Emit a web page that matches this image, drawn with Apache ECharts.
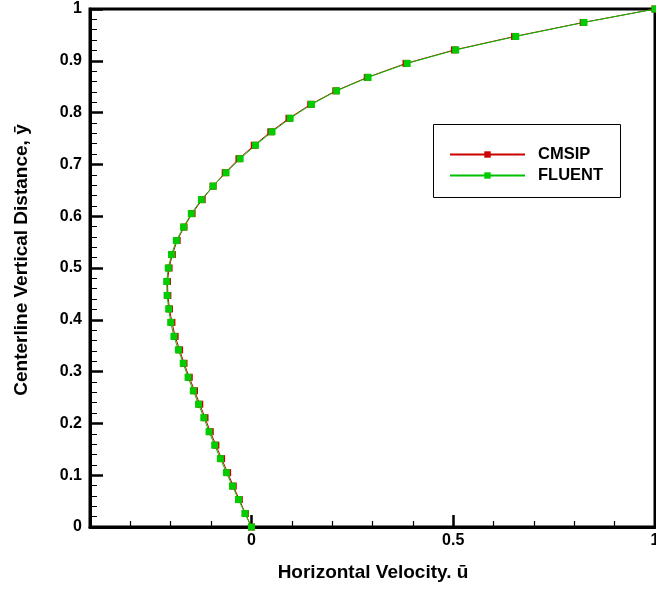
<!DOCTYPE html>
<html><head><meta charset="utf-8">
<script src="https://cdn.jsdelivr.net/npm/echarts@6/dist/echarts.min.js"></script>
<style>html,body{margin:0;padding:0;background:#fff}#c{width:656px;height:592px}</style>
</head><body><div id="c"></div>
<script>
// Centerline vertical distance (y-bar)
const yValues = [0, 0.026, 0.053, 0.079, 0.105, 0.132, 0.158, 0.184, 0.211, 0.237,
  0.263, 0.289, 0.316, 0.342, 0.368, 0.395, 0.421, 0.447, 0.474, 0.5,
  0.526, 0.553, 0.579, 0.605, 0.632, 0.658, 0.684, 0.711, 0.737, 0.763,
  0.789, 0.816, 0.842, 0.868, 0.895, 0.921, 0.947, 0.974, 1];
// Horizontal velocity (u-bar), FLUENT
const fluentU = [0, -0.016, -0.032, -0.047, -0.062, -0.077, -0.091, -0.105, -0.118, -0.131,
  -0.144, -0.157, -0.169, -0.181, -0.192, -0.200, -0.205, -0.209, -0.210, -0.206,
  -0.198, -0.186, -0.168, -0.149, -0.124, -0.095, -0.063, -0.028, 0.010, 0.051,
  0.096, 0.149, 0.211, 0.289, 0.386, 0.506, 0.655, 0.824, 1];
// Horizontal velocity (u-bar), CMSIP
const cmsipU = [0, -0.015, -0.030, -0.045, -0.059, -0.074, -0.088, -0.102, -0.115, -0.128,
  -0.141, -0.154, -0.167, -0.178, -0.189, -0.197, -0.203, -0.207, -0.208, -0.204,
  -0.196, -0.184, -0.167, -0.147, -0.122, -0.095, -0.065, -0.031, 0.007, 0.048,
  0.093, 0.147, 0.209, 0.287, 0.383, 0.503, 0.652, 0.822, 1];
const xMajorTicks = [0, 0.5, 1];
const seriesNames = ['CMSIP', 'FLUENT'];

const FONT = '"Liberation Sans", Arial, Helvetica, sans-serif';
const chart = echarts.init(document.getElementById('c'));
const pairs = (us) => us.map((u, i) => [u, yValues[i]]);

chart.setOption({
  animation: false,
  grid: { left: 90, right: 1, top: 9, bottom: 65, containLabel: false, outerBoundsMode: 'none',
    show: true, borderColor: '#000', borderWidth: 3, backgroundColor: 'transparent' },
  xAxis: [
    {
      type: 'value', min: -0.4, max: 1, interval: 0.1, position: 'bottom',
      axisLine: { show: true, onZero: false, lineStyle: { color: '#000', width: 3 } },
      axisTick: { show: true, inside: true, length: 6, lineStyle: { color: '#000', width: 1.2 } },
      axisLabel: { show: false },
      splitLine: { show: false }
    },
    {
      type: 'value', min: -0.4, max: 1, position: 'bottom',
      axisLine: { show: false, onZero: false },
      axisTick: { show: true, inside: true, length: 12, customValues: xMajorTicks, lineStyle: { color: '#000', width: 2.5 } },
      axisLabel: { show: true, customValues: xMajorTicks, margin: 6, color: '#000', fontSize: 16, fontWeight: 'bold', fontFamily: FONT, hideOverlap: false },
      splitLine: { show: false }
    }
  ],
  yAxis: {
    type: 'value', min: 0, max: 1, interval: 0.1,
    axisLine: { show: true, onZero: false, lineStyle: { color: '#000', width: 3 } },
    axisTick: { show: true, inside: true, length: 13, lineStyle: { color: '#000', width: 2.5 } },
    minorTick: { show: true, splitNumber: 5, length: 7, lineStyle: { color: '#000', width: 1 } },
    axisLabel: { margin: 8, color: '#000', fontSize: 16, fontWeight: 'bold', fontFamily: FONT },
    splitLine: { show: false }
  },
  legend: {
    left: 449, top: 146, orient: 'vertical', itemWidth: 75, itemHeight: 8, itemGap: 4,
    padding: 0,
    data: seriesNames,
    textStyle: { color: '#000', fontSize: 16.5, fontWeight: 'bold', fontFamily: FONT, lineHeight: 17, padding: [0, 0, 0, 8] }
  },
  graphic: [
    { type: 'rect', shape: { x: 433.5, y: 124.5, width: 187, height: 73 }, style: { fill: 'none', stroke: '#000', lineWidth: 1 }, z: 1 },
    { type: 'text', x: 22, y: 260, rotation: Math.PI / 2,
      style: { text: 'Centerline Vertical Distance, ȳ', fill: '#000', font: 'bold 19px ' + FONT, textAlign: 'center', textVerticalAlign: 'middle' } },
    { type: 'text', x: 373, y: 573,
      style: { text: 'Horizontal Velocity. ū', fill: '#000', font: 'bold 19px ' + FONT, textAlign: 'center', textVerticalAlign: 'middle' } }
  ],
  series: [
    {
      name: seriesNames[0], type: 'line', xAxisIndex: 0, data: pairs(cmsipU),
      symbol: 'rect', symbolSize: 7, showAllSymbol: true,
      lineStyle: { color: '#cc0000', width: 1 }, itemStyle: { color: '#cc0000' }
    },
    {
      name: seriesNames[1], type: 'line', xAxisIndex: 0, data: pairs(fluentU),
      symbol: 'rect', symbolSize: 7, showAllSymbol: true,
      lineStyle: { color: '#00c000', width: 1 }, itemStyle: { color: '#00cc00' }
    }
  ]
});
</script>
</body></html>
